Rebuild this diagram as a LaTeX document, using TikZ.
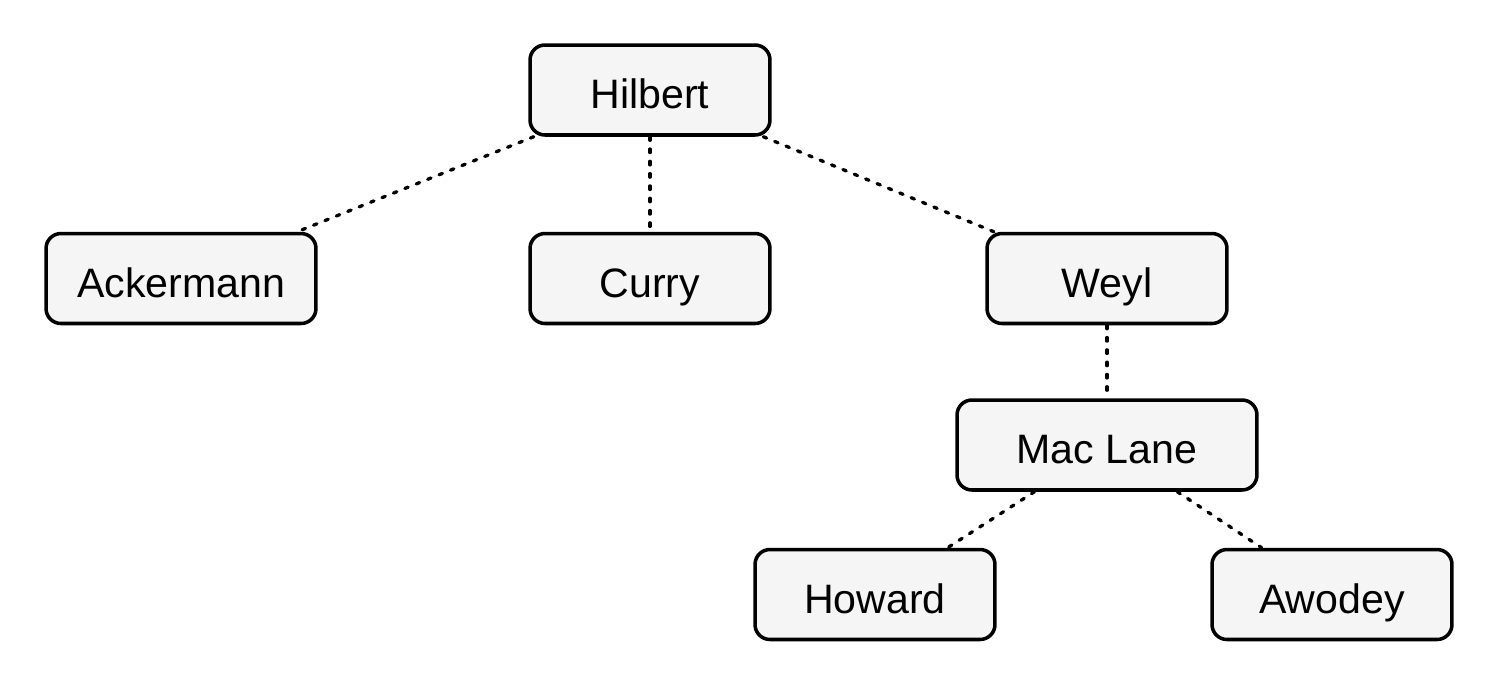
\documentclass[tikz,border=0pt]{standalone}
\usepackage{fontspec}
\setmainfont{Liberation Sans}
\begin{document}
\begin{tikzpicture}[x=0.02cm,y=-0.02cm,
  person/.style={draw=black, line width=2pt, fill=black!4, rounded corners=8.5pt,
    minimum width=4.8cm, minimum height=1.8cm, inner sep=0pt,
    text height=21.3pt, text depth=0pt,
    font=\fontsize{23.4}{28}\selectfont},
  link/.style={line width=1.9pt, line cap=round, dash pattern=on 2pt off 5pt}]
\useasboundingbox (0,0) rectangle (1499,687);
\node[person] (hilbert) at (650,90) {Hilbert};
\node[person, minimum width=5.4cm] (ackermann) at (181,278.5) {Ackermann};
\node[person] (curry) at (650,278.5) {Curry};
\node[person] (weyl) at (1107,278.5) {Weyl};
\node[person, minimum width=6cm] (maclane) at (1107,445) {Mac Lane};
\node[person] (howard) at (875,594.5) {Howard};
\node[person] (awodey) at (1332,594.5) {Awodey};
\draw[link] (hilbert) -- (ackermann);
\draw[link] (hilbert) -- (curry);
\draw[link] (hilbert) -- (weyl);
\draw[link] (weyl) -- (maclane);
\draw[link] (maclane) -- (howard);
\draw[link] (maclane) -- (awodey);
\end{tikzpicture}
\end{document}
